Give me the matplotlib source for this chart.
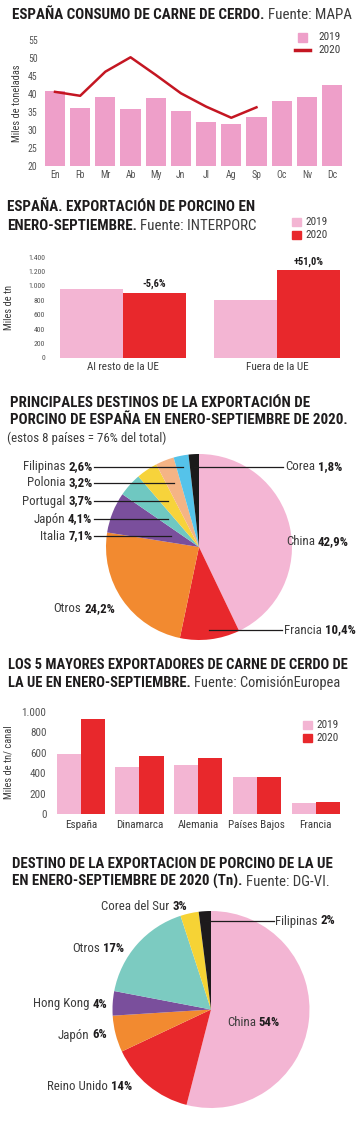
import numpy as np
import matplotlib
matplotlib.use('Agg')
import matplotlib.pyplot as plt
from matplotlib import font_manager
from matplotlib.patches import Rectangle
from matplotlib.lines import Line2D
from matplotlib.text import Annotation
from matplotlib.ticker import FuncFormatter

# ---- datos ----
meses = ['En', 'Fb', 'Mr', 'Ab', 'My', 'Jn', 'Jl', 'Ag', 'Sp', 'Oc', 'Nv', 'Dc']
consumo_2019 = [40.9, 36.2, 39.1, 35.7, 38.8, 35.2, 32.2, 31.8, 33.6, 38.0, 39.1, 42.4]
consumo_2020 = [40.6, 39.5, 46.2, 50.2, 45.3, 40.2, 36.5, 33.4, 36.3]

destinos = ['Al resto de la UE', 'Fuera de la UE']
export_2019 = [960, 808]
export_2020 = [906, 1220]
variacion = ['-5,6%', '+51,0%']

paises_es = ['China', 'Francia', 'Otros', 'Italia', 'Japón', 'Portugal', 'Polonia', 'Filipinas', 'Corea']
cuota_es = [42.9, 10.4, 24.2, 7.1, 4.1, 3.7, 3.2, 2.6, 1.8]

exportadores = ['España', 'Dinamarca', 'Alemania', 'Países Bajos', 'Francia']
ue_2019 = [588, 464, 477, 366, 105]
ue_2020 = [931, 572, 546, 366, 115]

paises_ue = ['China', 'Reino Unido', 'Japón', 'Hong Kong', 'Otros', 'Corea del Sur', 'Filipinas']
cuota_ue = [54, 14, 6, 4, 17, 3, 2]

# ---- estilo ----
ROSA = '#f3b5d3'
ROSA1 = '#ee9fc9'
ROJO = '#e8282c'
ROJO_LINEA = '#c41622'
NEGRO = '#1e1c1d'
GRIS = '#3c3c3c'
GRIS_TICK = '#555555'
colores_es = ['#f4b6d4', '#e8282c', '#f28a30', '#7a4f9c', '#6fc8c1', '#f7d33b', '#f5b485', '#55c3ea', '#1a1a1a']
colores_ue = ['#f3b5d3', '#e8282c', '#f28a30', '#7a4f9c', '#7ccbc1', '#f6d335', '#1d1a1c']

nombres = {f.name for f in font_manager.fontManager.ttflist}
FUENTE = 'DejaVu Sans'
for cand in ['Liberation Sans Narrow', 'Roboto Condensed', 'Open Sans Condensed', 'Roboto']:
    if cand in nombres:
        FUENTE = cand
        break
plt.rcParams['font.family'] = [FUENTE, 'DejaVu Sans']

W, H = 358, 1126
fig = plt.figure(figsize=(W / 100, H / 100), dpi=100)
fig.patch.set_facecolor('white')


def fx(x):
    return x / W


def fy(y):
    return 1 - y / H


def caja(x0, y0, x1, y1):
    return fig.add_axes([x0 / W, 1 - y1 / H, (x1 - x0) / W, (y1 - y0) / H])


def ajustar(texto, ancho, peso='bold', tam0=10):
    t = fig.text(0, 0, texto, fontsize=tam0, fontweight=peso)
    w = t.get_window_extent(fig.canvas.get_renderer()).width
    t.remove()
    return tam0 * ancho / w


TAM_T = ajustar('PORCINO DE ESPAÑA EN ENERO-SEPTIEMBRE DE 2020.', 337)
TAM_E = ajustar('Reino Unido 14%', 84, peso='normal')
TAM_TICK = 7


def titulo(x, ys, lineas, fuente=None, ancho=None):
    tam = TAM_T
    if ancho is not None:
        tam = min(tam, ajustar(lineas[0], ancho))
    t = None
    for y, l in zip(ys, lineas):
        t = fig.text(fx(x), fy(y), l, fontsize=tam, fontweight='bold', color=NEGRO, va='center')
    if fuente:
        fig.add_artist(Annotation(fuente, xy=(1, 0.5), xycoords=t, xytext=(2.5, 0),
                                  textcoords='offset points', va='center', ha='left',
                                  fontsize=tam, color=GRIS))


def etiqueta(x, y, nombre, valor, lado):
    if lado == 'izq':
        tv = fig.text(fx(x), fy(y), valor, ha='right', va='center', fontweight='bold',
                      fontsize=TAM_E, color=NEGRO)
        fig.add_artist(Annotation(nombre, xy=(0, 0.5), xycoords=tv, xytext=(-2, 0),
                                  textcoords='offset points', ha='right', va='center',
                                  fontsize=TAM_E, color=GRIS))
    else:
        tn = fig.text(fx(x), fy(y), nombre, ha='left', va='center', fontsize=TAM_E, color=GRIS)
        fig.add_artist(Annotation(valor, xy=(1, 0.5), xycoords=tn, xytext=(2, 0),
                                  textcoords='offset points', ha='left', va='center',
                                  fontweight='bold', fontsize=TAM_E, color=NEGRO))


def angulos_medios(vals):
    vals = np.array(vals, dtype=float)
    acum = np.concatenate([[0], np.cumsum(vals)[:-1]])
    return 90 - 360 * (acum + vals / 2) / vals.sum()


def guia(cx, cy, ang, y, x_ext):
    xi = cx + (cy - y) / np.tan(np.radians(ang))
    fig.add_artist(Line2D([fx(xi), fx(x_ext)], [fy(y), fy(y)], transform=fig.transFigure,
                          color=NEGRO, lw=0.9))


def limpiar(ax):
    for s in ax.spines.values():
        s.set_visible(False)
    ax.tick_params(length=0, labelsize=TAM_TICK, labelcolor=GRIS_TICK)
    ax.set_facecolor('none')


def leyenda(x, y, paso, estilo2='cuadro', lado=8.5):
    fig.add_artist(Rectangle((fx(x), fy(y + lado / 2)), lado / W, lado / H,
                             transform=fig.transFigure, color=ROSA if estilo2 == 'cuadro' else ROSA1))
    if estilo2 == 'cuadro':
        fig.add_artist(Rectangle((fx(x), fy(y + paso + lado / 2)), lado / W, lado / H,
                                 transform=fig.transFigure, color=ROJO))
    else:
        fig.add_artist(Line2D([fx(x - 3), fx(x + 12)], [fy(y + paso), fy(y + paso)],
                              transform=fig.transFigure, color=ROJO_LINEA, lw=2.5))
    tx = x + (20 if estilo2 != 'cuadro' else 13)
    fig.text(fx(tx), fy(y), '2019', va='center', fontsize=8, color=GRIS)
    fig.text(fx(tx), fy(y + paso), '2020', va='center', fontsize=8, color=GRIS)


miles = FuncFormatter(lambda v, p: f'{v:,.0f}'.replace(',', '.'))

# ---- 1. consumo ----
titulo(12, [15], ['ESPAÑA CONSUMO DE CARNE DE CERDO.'], 'Fuente: MAPA')
ax1 = caja(42.4, 40, 344.6, 166)
x1 = np.arange(len(meses))
ax1.bar(x1, consumo_2019, width=0.8, color=ROSA1)
ax1.plot(x1[:len(consumo_2020)], consumo_2020, color=ROJO_LINEA, lw=1.8)
ax1.set_xlim(-0.5, len(meses) - 0.5)
ax1.set_ylim(20, 55)
ax1.set_yticks(np.arange(20, 56, 5))
ax1.set_xticks(x1, meses)
limpiar(ax1)
ax1.tick_params(axis='y', pad=3.5)
ax1.tick_params(axis='x', pad=3)
fig.text(fx(17), fy(103), 'Miles de toneladas', rotation=90, ha='center', va='center',
         fontsize=7.5, color=GRIS)
leyenda(298, 37.5, 12.5, estilo2='linea')

# ---- 2. exportacion ----
titulo(7, [207, 226.5], ['ESPAÑA. EXPORTACIÓN DE PORCINO EN', 'ENERO-SEPTIEMBRE.'], 'Fuente: INTERPORC')
ax2 = caja(55, 257, 345, 358)
x2 = np.arange(len(destinos))
ax2.bar(x2 - 0.205, export_2019, width=0.41, color=ROSA)
b2 = ax2.bar(x2 + 0.205, export_2020, width=0.41, color=ROJO)
for rect, txt in zip(b2, variacion):
    ax2.annotate(txt, (rect.get_x() + rect.get_width() / 2, rect.get_height()),
                 xytext=(0, 2.5), textcoords='offset points', ha='center', va='bottom',
                 fontweight='bold', fontsize=7.5, color=NEGRO)
ax2.set_xlim(-0.44, 1.44)
ax2.set_ylim(0, 1400)
ax2.set_yticks(np.arange(0, 1401, 200))
ax2.yaxis.set_major_formatter(miles)
ax2.set_xticks(x2, destinos)
limpiar(ax2)
ax2.tick_params(axis='y', pad=7, labelsize=5.6)
ax2.tick_params(axis='x', pad=3, labelsize=8, labelcolor=GRIS)
fig.text(fx(9), fy(307), 'Miles de tn', rotation=90, ha='center', va='center',
         fontsize=7.5, color=GRIS)
leyenda(292, 222, 13)

# ---- 3. destinos Espana ----
titulo(10, [403, 420.5], ['PRINCIPALES DESTINOS DE LA EXPORTACIÓN DE',
                          'PORCINO DE ESPAÑA EN ENERO-SEPTIEMBRE DE 2020.'])
fig.text(fx(7), fy(438), '(estos 8 países = 76% del total)', va='center', fontsize=TAM_E, color=GRIS)
cx3, cy3, r3 = 199, 547, 93
ax3 = caja(cx3 - r3, cy3 - r3, cx3 + r3, cy3 + r3)
ax3.pie(cuota_es, colors=colores_es, startangle=90, counterclock=False, radius=1,
        wedgeprops=dict(linewidth=0))
ax3.set_xlim(-1, 1)
ax3.set_ylim(-1, 1)
ax3.axis('off')
med3 = angulos_medios(cuota_es)
# (x texto, y, lado, x extremo de la guia o None)
pos3 = [(286, 542, 'der', None), (284, 630, 'der', 282), (115, 609, 'izq', None),
        (92.5, 536, 'izq', 94), (92.5, 519, 'izq', 94), (92.5, 501, 'izq', 94),
        (92.5, 483, 'izq', 94), (92.5, 467, 'izq', 94), (285, 467, 'der', 283)]
for nom, v, ang, (x, y, lado, xe) in zip(paises_es, cuota_es, med3, pos3):
    etiqueta(x, y, nom, f'{v:.1f}%'.replace('.', ','), lado)
    if xe is not None:
        guia(cx3, cy3, ang, y, xe)

# ---- 4. exportadores UE ----
titulo(8, [665, 682.7], ['LOS 5 MAYORES EXPORTADORES DE CARNE DE CERDO DE',
                         'LA UE EN ENERO-SEPTIEMBRE.'], 'Fuente: ComisiónEuropea', ancho=339)
ax4 = caja(52, 712, 345, 814)
x4 = np.arange(len(exportadores))
ax4.bar(x4 - 0.205, ue_2019, width=0.41, color=ROSA)
ax4.bar(x4 + 0.205, ue_2020, width=0.41, color=ROJO)
ax4.set_xlim(-0.49, 4.5)
ax4.set_ylim(0, 1000)
ax4.set_yticks(np.arange(0, 1001, 200))
ax4.yaxis.set_major_formatter(miles)
ax4.set_xticks(x4, exportadores)
limpiar(ax4)
ax4.tick_params(axis='y', pad=4, labelsize=8)
ax4.tick_params(axis='x', pad=4, labelsize=8, labelcolor=GRIS)
fig.text(fx(9), fy(762), 'Miles de tn/ canal', rotation=90, ha='center', va='center',
         fontsize=7.5, color=GRIS)
leyenda(303, 725, 13)

# ---- 5. destinos UE ----
titulo(12, [864, 881.7], ['DESTINO DE LA EXPORTACION DE PORCINO DE LA UE',
                          'EN ENERO-SEPTIEMBRE DE 2020 (Tn).'], 'Fuente: DG-VI.', ancho=321)
cx5, cy5, r5 = 211, 1009.5, 98.5
ax5 = caja(cx5 - r5, cy5 - r5, cx5 + r5, cy5 + r5)
ax5.pie(cuota_ue, colors=colores_ue, startangle=90, counterclock=False, radius=1,
        wedgeprops=dict(linewidth=0))
ax5.set_xlim(-1, 1)
ax5.set_ylim(-1, 1)
ax5.axis('off')
med5 = angulos_medios(cuota_ue)
pos5 = [(227, 1023, 'der', None), (132, 1087, 'izq', None), (107, 1035, 'izq', None),
        (107, 1004, 'izq', None), (124, 949, 'izq', None), (187, 906, 'izq', None),
        (275, 921, 'der', 273.5)]
for nom, v, ang, (x, y, lado, xe) in zip(paises_ue, cuota_ue, med5, pos5):
    etiqueta(x, y, nom, f'{v}%', lado)
    if xe is not None:
        guia(cx5, cy5, ang, y, xe)

fig.savefig('out.png', dpi=100, facecolor='white')
